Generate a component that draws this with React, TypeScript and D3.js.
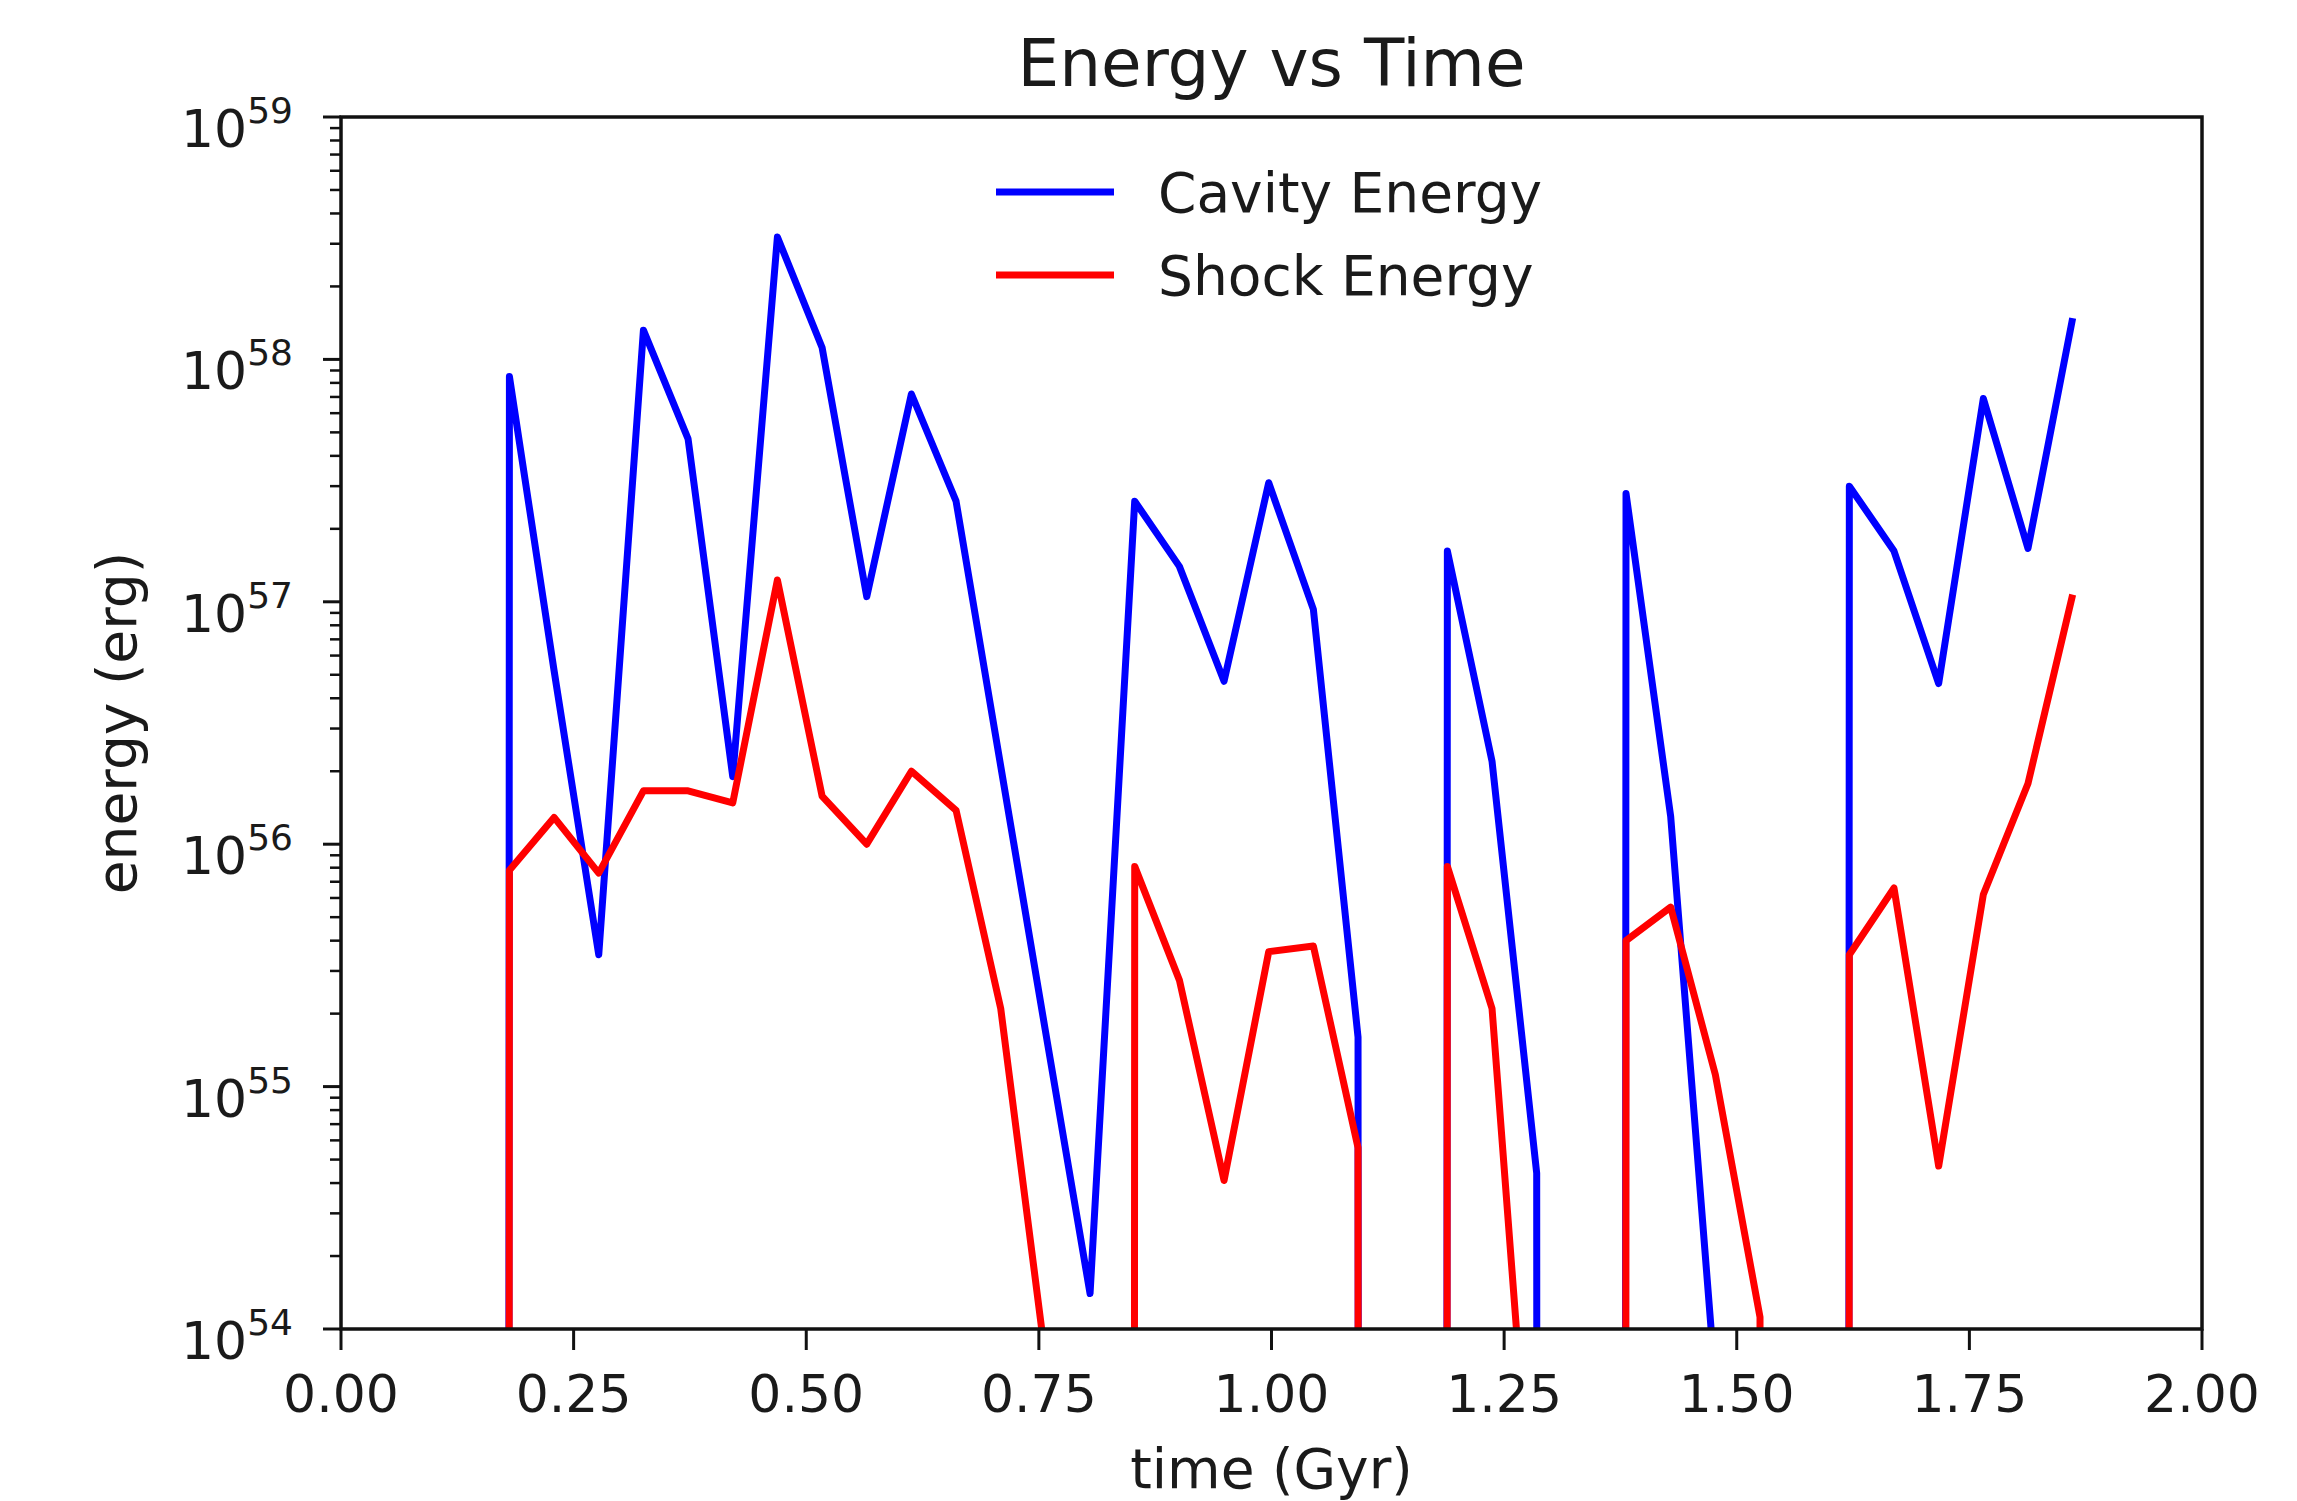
import React from "react";
import * as d3 from "d3";

// ---- data ----
const times = [
  0.133, 0.181, 0.229, 0.277, 0.325, 0.373, 0.421, 0.469, 0.517, 0.565, 0.613, 0.661,
  0.709, 0.757, 0.805, 0.853, 0.901, 0.949, 0.997, 1.045, 1.093, 1.141, 1.189, 1.237,
  1.285, 1.333, 1.381, 1.429, 1.477, 1.525, 1.573, 1.621, 1.669, 1.717, 1.765, 1.813, 1.861,
];

const cavityEnergy = [
  0, 8.5e57, 5.2e56, 3.5e55, 1.32e58, 4.7e57, 1.9e56, 3.2e58, 1.12e58, 1.05e57, 7.2e57, 2.6e57,
  2.1e56, 1.7e55, 1.4e54, 2.6e57, 1.4e57, 4.7e56, 3.1e57, 9.3e56, 1.6e55, 0, 1.62e57, 2.2e56,
  4.4e54, 0, 2.8e57, 1.3e56, 6.0e53, 0, 0, 3.0e57, 1.62e57, 4.6e56, 6.9e57, 1.66e57, 1.48e58,
];

const shockEnergy = [
  0, 7.8e55, 1.29e56, 7.6e55, 1.66e56, 1.66e56, 1.48e56, 1.23e57, 1.58e56, 1.0e56, 2.0e56, 1.38e56,
  2.1e55, 7.6e53, 0, 8.1e55, 2.75e55, 4.1e54, 3.6e55, 3.8e55, 5.6e54, 0, 8.1e55, 2.1e55,
  8e52, 0, 4.0e55, 5.5e55, 1.12e55, 1.12e54, 0, 3.5e55, 6.6e55, 4.7e54, 6.2e55, 1.78e56, 1.07e57,
];

const xTicks = [0, 0.25, 0.5, 0.75, 1.0, 1.25, 1.5, 1.75, 2.0];
const yDecades = [54, 55, 56, 57, 58, 59];
const minorMultipliers = [2, 3, 4, 5, 6, 7, 8, 9];

const seriesNames = ["Cavity Energy", "Shock Energy"];
const seriesColors = ["#0000ff", "#ff0000"];

const W = 2297;
const H = 1501;
const M = { left: 341, right: 2202, top: 117, bottom: 1329 };
const FONT = "DejaVu Sans";
const TXT = "#1a1a1a";

export default function App() {
  const x = d3.scaleLinear().domain([0, 2]).range([M.left, M.right]);
  const y = d3.scaleLog().domain([1e54, 1e59]).range([M.bottom, M.top]);
  const yv = (v: number) => (v > 0 ? y(v) : y(1e-300));

  const mkLine = (vals: number[]) =>
    d3
      .line<number>()
      .x((_, i) => x(times[i]))
      .y((d) => yv(d))(vals) as string;

  const series = [cavityEnergy, shockEnergy];

  const minorTicks: number[] = [];
  for (let k = yDecades[0]; k < yDecades[yDecades.length - 1]; k++) {
    for (const m of minorMultipliers) minorTicks.push(m * Math.pow(10, k));
  }

  const fmt = d3.format(".2f");

  return (
    <svg
      width={W}
      height={H}
      viewBox={`0 0 ${W} ${H}`}
      style={{ position: "absolute", left: 0, top: 0, background: "#fff" }}
      fontFamily={FONT}
    >
      <defs>
        <clipPath id="plotclip">
          <rect x={M.left} y={M.top} width={M.right - M.left} height={M.bottom - M.top} />
        </clipPath>
      </defs>
      <rect x={0} y={0} width={W} height={H} fill="#fff" />

      {/* data lines */}
      <g clipPath="url(#plotclip)">
        {series.map((vals, si) => (
          <path
            key={si}
            d={mkLine(vals)}
            fill="none"
            stroke={seriesColors[si]}
            strokeWidth={7}
            strokeLinejoin="round"
          />
        ))}
      </g>

      {/* spines */}
      <rect
        x={M.left}
        y={M.top}
        width={M.right - M.left}
        height={M.bottom - M.top}
        fill="none"
        stroke="#111"
        strokeWidth={3.5}
      />

      {/* x ticks */}
      {xTicks.map((t) => (
        <g key={"xt" + t}>
          <line x1={x(t)} x2={x(t)} y1={M.bottom} y2={M.bottom + 21} stroke="#111" strokeWidth={3} />
          <text x={x(t)} y={1412} textAnchor="middle" fontSize={52} fill={TXT}>
            {fmt(t)}
          </text>
        </g>
      ))}

      {/* y major ticks */}
      {yDecades.map((k) => {
        const yy = y(Math.pow(10, k));
        return (
          <g key={"yt" + k}>
            <line x1={M.left - 18} x2={M.left} y1={yy} y2={yy} stroke="#111" strokeWidth={3} />
            <text x={293} y={yy + 30} textAnchor="end" fill={TXT} fontSize={52}>
              <tspan>10</tspan>
              <tspan fontSize={36} dy={-24}>
                {k}
              </tspan>
            </text>
          </g>
        );
      })}

      {/* y minor ticks */}
      {minorTicks.map((v, i) => (
        <line
          key={"ym" + i}
          x1={M.left - 11}
          x2={M.left}
          y1={y(v)}
          y2={y(v)}
          stroke="#111"
          strokeWidth={2.5}
        />
      ))}

      {/* axis labels */}
      <text x={(M.left + M.right) / 2} y={1488} textAnchor="middle" fontSize={55} fill={TXT}>
        time (Gyr)
      </text>
      <text
        transform={`translate(136, ${(M.top + M.bottom) / 2}) rotate(-90)`}
        textAnchor="middle"
        fontSize={55}
        fill={TXT}
      >
        energy (erg)
      </text>

      {/* title */}
      <text x={(M.left + M.right) / 2} y={86} textAnchor="middle" fontSize={66} fill={TXT}>
        Energy vs Time
      </text>

      {/* legend */}
      {seriesNames.map((name, i) => {
        const ly = 192 + i * 83;
        return (
          <g key={"lg" + i}>
            <line x1={996} x2={1114} y1={ly} y2={ly} stroke={seriesColors[i]} strokeWidth={7} />
            <text x={1158} y={ly + 20} fontSize={55} fill={TXT}>
              {name}
            </text>
          </g>
        );
      })}
    </svg>
  );
}
